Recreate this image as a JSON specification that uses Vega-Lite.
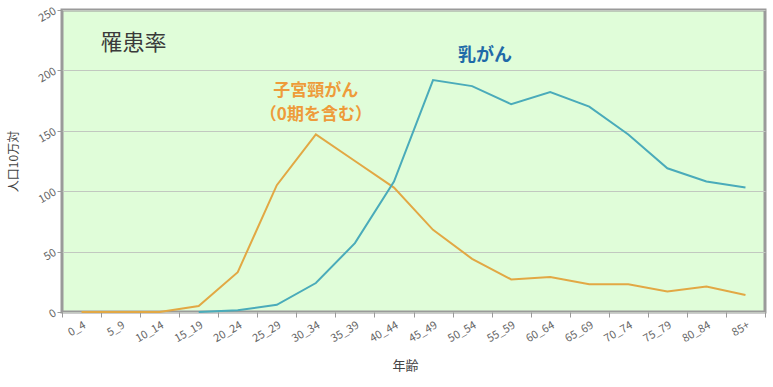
{
  "$schema": "https://vega.github.io/schema/vega-lite/v6.json",
  "width": 703,
  "height": 302,
  "autosize": "none",
  "padding": {"left": 62, "top": 10, "right": 8, "bottom": 75},
  "background": "white",
  "config": {
    "view": {"fill": "#E0FDD9", "stroke": "#9a9a9a", "strokeWidth": 3},
    "font": "Noto Sans CJK JP"
  },
  "datasets": {
    "rates": [
      {"age": "0_4", "series": "子宮頸がん", "rate": 0},
      {"age": "5_9", "series": "子宮頸がん", "rate": 0},
      {"age": "10_14", "series": "子宮頸がん", "rate": 0},
      {"age": "15_19", "series": "子宮頸がん", "rate": 5},
      {"age": "20_24", "series": "子宮頸がん", "rate": 33},
      {"age": "25_29", "series": "子宮頸がん", "rate": 105},
      {"age": "30_34", "series": "子宮頸がん", "rate": 147},
      {"age": "35_39", "series": "子宮頸がん", "rate": 125},
      {"age": "40_44", "series": "子宮頸がん", "rate": 103},
      {"age": "45_49", "series": "子宮頸がん", "rate": 68},
      {"age": "50_54", "series": "子宮頸がん", "rate": 44},
      {"age": "55_59", "series": "子宮頸がん", "rate": 27},
      {"age": "60_64", "series": "子宮頸がん", "rate": 29},
      {"age": "65_69", "series": "子宮頸がん", "rate": 23},
      {"age": "70_74", "series": "子宮頸がん", "rate": 23},
      {"age": "75_79", "series": "子宮頸がん", "rate": 17},
      {"age": "80_84", "series": "子宮頸がん", "rate": 21},
      {"age": "85+", "series": "子宮頸がん", "rate": 14},
      {"age": "15_19", "series": "乳がん", "rate": 0},
      {"age": "20_24", "series": "乳がん", "rate": 1.5},
      {"age": "25_29", "series": "乳がん", "rate": 6},
      {"age": "30_34", "series": "乳がん", "rate": 24},
      {"age": "35_39", "series": "乳がん", "rate": 57},
      {"age": "40_44", "series": "乳がん", "rate": 108},
      {"age": "45_49", "series": "乳がん", "rate": 192},
      {"age": "50_54", "series": "乳がん", "rate": 187},
      {"age": "55_59", "series": "乳がん", "rate": 172},
      {"age": "60_64", "series": "乳がん", "rate": 182},
      {"age": "65_69", "series": "乳がん", "rate": 170},
      {"age": "70_74", "series": "乳がん", "rate": 147},
      {"age": "75_79", "series": "乳がん", "rate": 119},
      {"age": "80_84", "series": "乳がん", "rate": 108},
      {"age": "85+", "series": "乳がん", "rate": 103}
    ],
    "title": [
      {"age": "5_9", "rate": 223, "text": "罹患率"}
    ],
    "breast": [
      {"age": "50_54", "rate": 212, "text": "乳がん"}
    ],
    "cervix": [
      {"age": "30_34", "rate": 183, "text": "子宮頸がん"},
      {"age": "30_34", "rate": 163, "text": "（0期を含む）"}
    ]
  },
  "layer": [
    {
      "data": {"name": "rates"},
      "mark": {"type": "line", "strokeWidth": 2},
      "encoding": {
        "x": {
          "field": "age", "type": "ordinal", "sort": null,
          "scale": {"type": "band", "paddingInner": 0, "paddingOuter": 0,
            "domain": ["0_4","5_9","10_14","15_19","20_24","25_29","30_34","35_39","40_44","45_49","50_54","55_59","60_64","65_69","70_74","75_79","80_84","85+"]},
          "axis": {"title": "年齢", "tickBand": "extent", "labelAngle": -30, "labelColor": "#666", "labelFontSize": 11,
            "tickColor": "#999", "tickSize": 5, "domain": false, "grid": false, "titleColor": "#444", "titleFontSize": 13,
            "titleFontWeight": "normal", "titlePadding": 16, "titleX": 343}
        },
        "y": {
          "field": "rate", "type": "quantitative",
          "scale": {"domain": [0, 250], "nice": false},
          "axis": {"title": "人口10万対", "values": [0, 50, 100, 150, 200, 250], "labelAngle": -30, "labelColor": "#666",
            "labelFontSize": 11, "tickColor": "#999", "tickSize": 5, "domain": false, "gridColor": "#c2c8c0",
            "titleColor": "#444", "titleFontSize": 12, "titleFontWeight": "normal", "titlePadding": 16}
        },
        "color": {
          "field": "series", "type": "nominal",
          "scale": {"domain": ["乳がん", "子宮頸がん"], "range": ["#4AABBA", "#E2A844"]},
          "legend": null
        },
        "order": {"field": "series"}
      }
    },
    {
      "data": {"name": "title"},
      "mark": {"type": "text", "fontSize": 22, "fontWeight": "normal", "color": "#3a3a3a", "dx": 13},
      "encoding": {
        "x": {"field": "age", "type": "ordinal", "sort": null},
        "y": {"field": "rate", "type": "quantitative"},
        "text": {"field": "text"}
      }
    },
    {
      "data": {"name": "breast"},
      "mark": {"type": "text", "fontSize": 18, "fontWeight": "bold", "color": "#1E6AA8", "dx": 13},
      "encoding": {
        "x": {"field": "age", "type": "ordinal", "sort": null},
        "y": {"field": "rate", "type": "quantitative"},
        "text": {"field": "text"}
      }
    },
    {
      "data": {"name": "cervix"},
      "mark": {"type": "text", "fontSize": 17, "fontWeight": "bold", "color": "#EE9B3A"},
      "encoding": {
        "x": {"field": "age", "type": "ordinal", "sort": null},
        "y": {"field": "rate", "type": "quantitative"},
        "text": {"field": "text"}
      }
    }
  ]
}
